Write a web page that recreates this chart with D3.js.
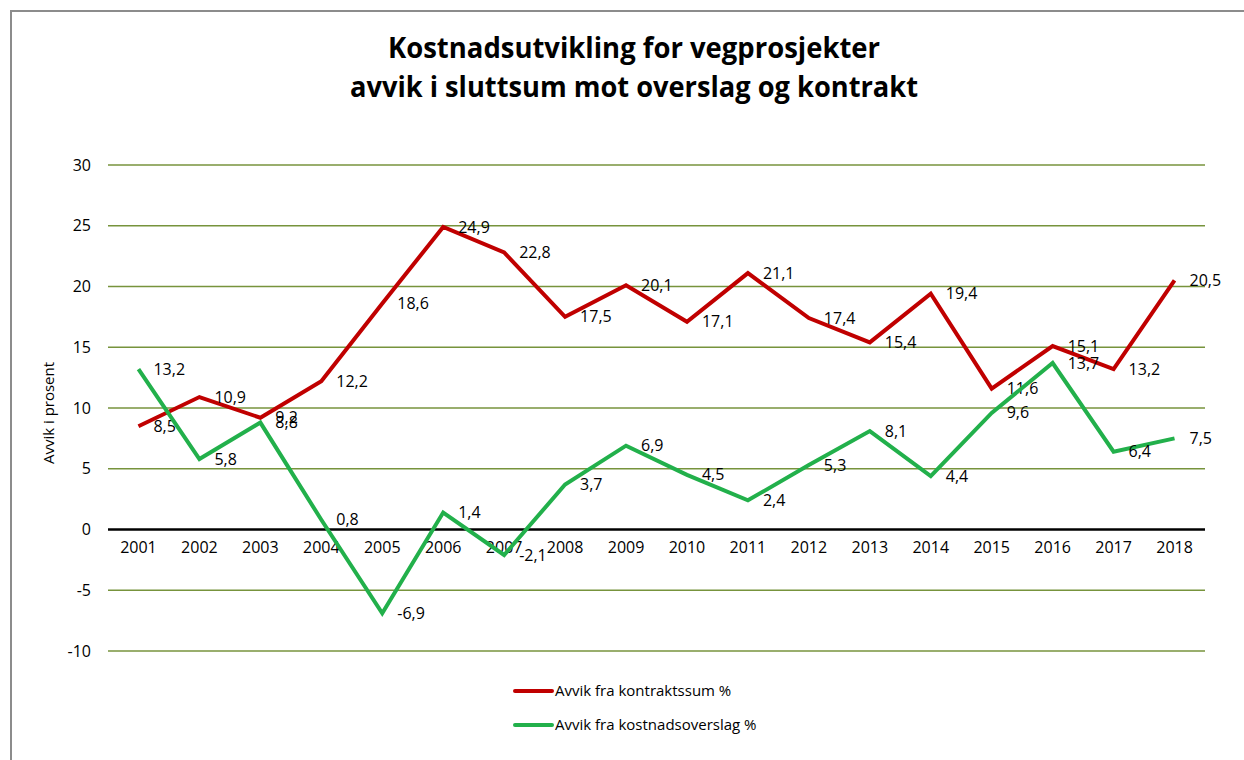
<!DOCTYPE html>
<html>
<head>
<meta charset="utf-8">
<script src="https://cdn.jsdelivr.net/npm/d3@7"></script>
<style>
  body { margin: 0; background: #fff; }
  svg text { font-family: "Open Sans", "Noto Sans", sans-serif; fill: #000; }
</style>
</head>
<body>
<div id="chart"></div>
<script>
// data
var years = ["2001","2002","2003","2004","2005","2006","2007","2008","2009",
             "2010","2011","2012","2013","2014","2015","2016","2017","2018"];
var kontrakt = [8.5, 10.9, 9.2, 12.2, 18.6, 24.9, 22.8, 17.5, 20.1,
                17.1, 21.1, 17.4, 15.4, 19.4, 11.6, 15.1, 13.2, 20.5];
var overslag = [13.2, 5.8, 8.8, 0.8, -6.9, 1.4, -2.1, 3.7, 6.9,
                4.5, 2.4, 5.3, 8.1, 4.4, 9.6, 13.7, 6.4, 7.5];
var yTicks = [-10, -5, 0, 5, 10, 15, 20, 25, 30];
var seriesNames = ["Avvik fra kontraktssum %", "Avvik fra kostnadsoverslag %"];
var seriesColors = ["#C00000", "#22B04B"];

var W = 1244, H = 760;
var svg = d3.select("#chart").append("svg")
    .attr("width", W).attr("height", H);

// chart frame
svg.append("path")
  .attr("d", "M11,760 L11,11 L1244,11")
  .attr("fill", "none")
  .attr("stroke", "#8c8c8c")
  .attr("stroke-width", 2);

// title
var title = svg.append("g").attr("font-weight", "bold");
title.append("text")
  .attr("x", 634).attr("y", 58)
  .attr("text-anchor", "middle")
  .attr("font-size", 28)
  .attr("textLength", 492).attr("lengthAdjust", "spacingAndGlyphs")
  .text("Kostnadsutvikling for vegprosjekter");
title.append("text")
  .attr("x", 634).attr("y", 97)
  .attr("text-anchor", "middle")
  .attr("font-size", 28)
  .attr("textLength", 568).attr("lengthAdjust", "spacingAndGlyphs")
  .text("avvik i sluttsum mot overslag og kontrakt");

var x = d3.scaleBand().domain(years).range([108, 1205]);
var y = d3.scaleLinear().domain([-10, 30]).range([651, 165]);
var cx = function(d, i) { return x(years[i]) + x.bandwidth() / 2; };
var fmt = function(d) { return String(d); };   // plain hyphen for negatives

// gridlines
svg.append("g")
  .selectAll("line")
  .data(yTicks.filter(function(t) { return t !== 0; }))
  .enter().append("line")
    .attr("x1", 108).attr("x2", 1205)
    .attr("y1", function(d) { return y(d); })
    .attr("y2", function(d) { return y(d); })
    .attr("stroke", "#77933C")
    .attr("stroke-width", 1.5);

// y axis labels
var yAxis = svg.append("g")
  .attr("transform", "translate(108,0)")
  .call(d3.axisLeft(y).tickValues(yTicks).tickFormat(fmt).tickSize(0).tickPadding(17));
yAxis.select(".domain").remove();
yAxis.selectAll("text")
  .attr("font-size", 16)
  .attr("fill", "#000")
  .style("font-family", "'Open Sans', sans-serif");

// zero line
svg.append("line")
  .attr("x1", 108).attr("x2", 1205)
  .attr("y1", y(0)).attr("y2", y(0))
  .attr("stroke", "#000")
  .attr("stroke-width", 2.5);

// x axis labels
var xAxis = svg.append("g")
  .attr("transform", "translate(0," + y(0) + ")")
  .call(d3.axisBottom(x).tickSize(0).tickPadding(12));
xAxis.select(".domain").remove();
xAxis.selectAll("text")
  .attr("font-size", 16)
  .attr("fill", "#000")
  .style("font-family", "'Open Sans', sans-serif");

// y axis title
svg.append("text")
  .attr("transform", "translate(54,413) rotate(-90)")
  .attr("text-anchor", "middle")
  .attr("font-size", 15)
  .text("Avvik i prosent");

// lines + labels
var line = d3.line()
  .x(cx)
  .y(function(d) { return y(d); });

[kontrakt, overslag].forEach(function(vals, s) {
  svg.append("path")
    .datum(vals)
    .attr("fill", "none")
    .attr("stroke", seriesColors[s])
    .attr("stroke-width", 4)
    .attr("stroke-linejoin", "miter")
    .attr("d", line);

  svg.append("g")
    .selectAll("text")
    .data(vals)
    .enter().append("text")
      .attr("x", function(d, i) { return cx(d, i) + 15; })
      .attr("y", function(d) { return y(d); })
      .attr("dy", "0.35em")
      .attr("font-size", 16)
      .text(function(d) { return d.toFixed(1).replace(".", ","); });
});

// legend
var legend = svg.append("g");
seriesNames.forEach(function(name, s) {
  var ly = 691 + s * 34;
  legend.append("line")
    .attr("x1", 515).attr("x2", 552)
    .attr("y1", ly).attr("y2", ly)
    .attr("stroke", seriesColors[s])
    .attr("stroke-width", 4)
    .attr("stroke-linecap", "round");
  legend.append("text")
    .attr("x", 555).attr("y", ly)
    .attr("dy", "0.35em")
    .attr("font-size", 15)
    .text(name);
});
</script>
</body>
</html>
